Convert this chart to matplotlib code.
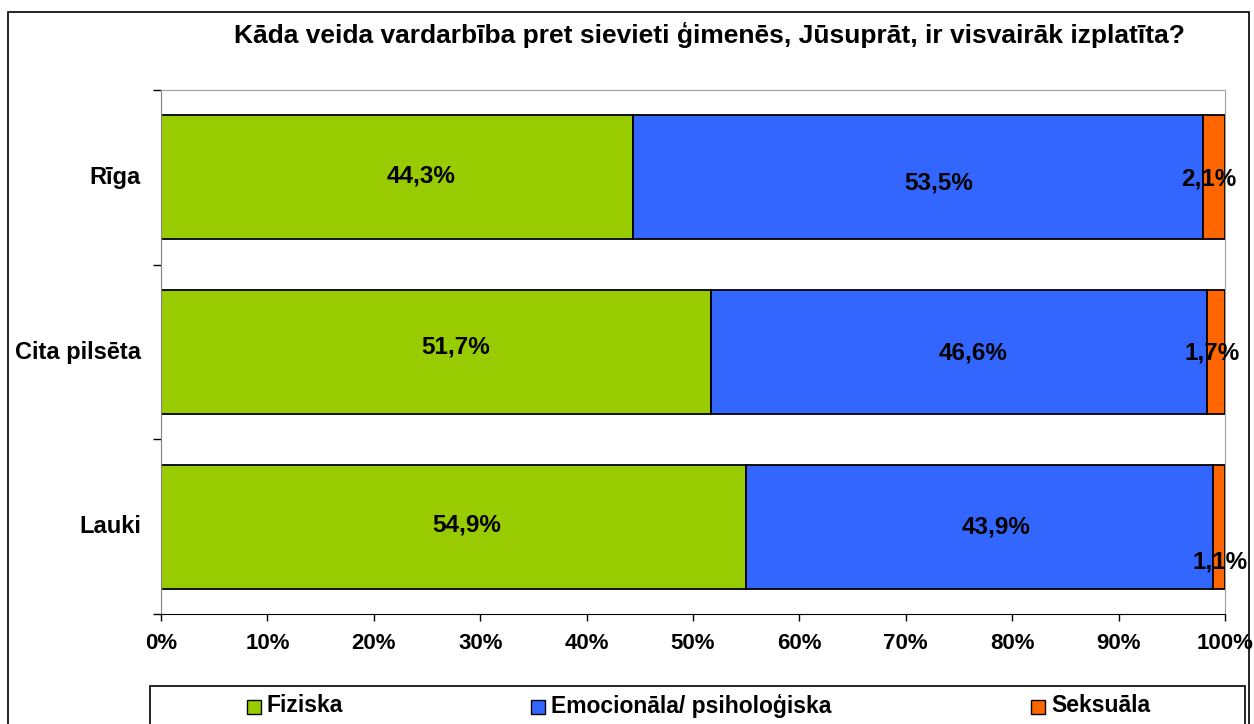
import numpy as np
import matplotlib.pyplot as plt
from matplotlib.patches import Rectangle

# data
categories = ['Rīga', 'Cita pilsēta', 'Lauki']
series = ['Fiziska', 'Emocionāla/ psiholoģiska', 'Seksuāla']
fiziska = [44.3, 51.7, 54.9]
emocionala = [53.5, 46.6, 43.9]
seksuala = [2.1, 1.7, 1.1]
colors = ['#99CC00', '#3366FF', '#FF6600']

plt.rcParams['font.family'] = ['Liberation Sans', 'DejaVu Sans']
plt.rcParams['font.weight'] = 'bold'

fig = plt.figure(figsize=(12.54, 7.24), dpi=100)
W, H = 1254, 724
ax = fig.add_axes([161 / W, 1 - 614 / H, (1225 - 161) / W, (614 - 90) / H])

vals = np.array([fiziska, emocionala, seksuala])
shares = vals / vals.sum(axis=0) * 100
y = np.arange(len(categories))[::-1]

# label nudges like in the original (x in %, y in category units, down = +)
dx = [[2.3, 2.0, -0.3], [1.8, 1.3, 0.0], [1.3, 1.6, 0.7]]
dy = [[-0.01, 0.03, 0.01], [-0.03, 0.005, 0.005], [-0.01, 0.0, 0.2]]

left = np.zeros(len(categories))
for s in range(len(series)):
    ax.barh(y, shares[s], left=left, height=0.71, color=colors[s],
            edgecolor='black', linewidth=1.3, label=series[s])
    for i in range(len(categories)):
        xc = left[i] + shares[s][i] / 2 + dx[i][s]
        if s == 2:
            xc = 98.8 + dx[i][s]
        ax.text(xc, y[i] - dy[i][s], f'{vals[s][i]:.1f}%'.replace('.', ','),
                ha='center', va='center', fontsize=17.5, fontweight='bold')
    left += shares[s]

ax.set_xlim(0, 100)
ax.set_ylim(-0.5, 2.5)
ax.set_xticks(np.arange(0, 101, 10))
ax.set_xticklabels([f'{v}%' for v in range(0, 101, 10)], fontsize=16, fontweight='bold')
ax.set_yticks([-0.5, 0.5, 1.5, 2.5])
ax.set_yticklabels([])
ax.tick_params(axis='y', length=6, direction='out', width=1)
ax.tick_params(axis='x', length=5, direction='out', width=1, pad=9)
for i, c in enumerate(categories):
    ax.text(-0.019, (y[i] + 0.5) / 3, c, transform=ax.transAxes, ha='right', va='center',
            fontsize=17, fontweight='bold')

for side in ['top', 'right']:
    ax.spines[side].set_color('#A0A0A0')
ax.spines['left'].set_color('#808080')
ax.spines['bottom'].set_color('black')

fig.suptitle('Kāda veida vardarbība pret sievieti ģimenēs, Jūsuprāt, ir visvairāk izplatīta?',
             x=709 / W, y=1 - 35 / H, fontsize=19, fontweight='bold', va='center')

# outer chart border
fig.patches.append(Rectangle((8 / W, -0.1), (1249 - 8) / W, 1.1 - 12 / H,
                             transform=fig.transFigure, fill=False, edgecolor='black', linewidth=1.2))

# legend box
fig.patches.append(Rectangle((150 / W, -0.05), (1245 - 150) / W, 0.05 + 1 - 686 / H,
                             transform=fig.transFigure, fill=False, edgecolor='black', linewidth=1.2))
leg_x = [247, 531, 1031]
for s in range(len(series)):
    fig.patches.append(Rectangle((leg_x[s] / W, 1 - 714 / H), 14 / W, 14 / H,
                                 transform=fig.transFigure, facecolor=colors[s],
                                 edgecolor='black', linewidth=1))
    fig.text((leg_x[s] + 20) / W, 1 - 706 / H, series[s], ha='left', va='center',
             fontsize=16.5, fontweight='bold')

fig.savefig('out.png', dpi=100)
